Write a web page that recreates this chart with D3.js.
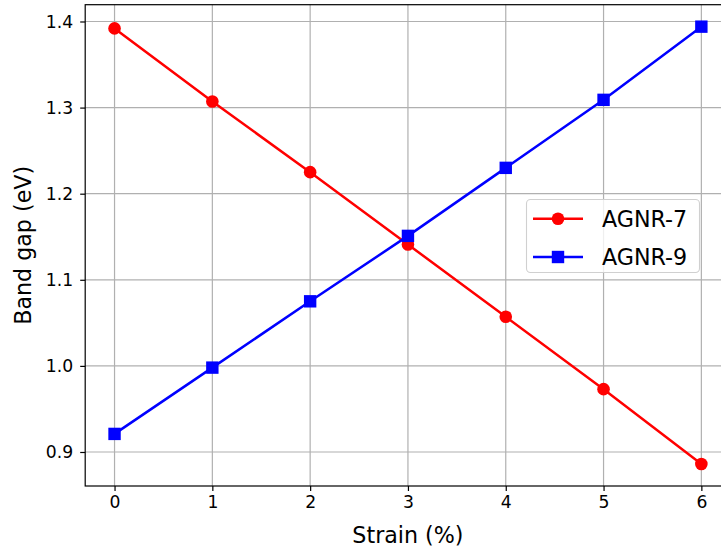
<!DOCTYPE html>
<html>
<head>
<meta charset="utf-8">
<script src="https://cdn.jsdelivr.net/npm/d3@7"></script>
<style>
  html, body { margin: 0; padding: 0; background: #fff; }
  svg { display: block; font-family: "DejaVu Sans", sans-serif; }
</style>
</head>
<body>
<svg id="chart" width="721" height="548"></svg>
<script>
// Strain values (%) and band gaps (eV) for the two nanoribbons
const strain = [0, 1, 2, 3, 4, 5, 6];
const agnr7 = [1.392, 1.307, 1.225, 1.141, 1.057, 0.973, 0.886];
const agnr9 = [0.921, 0.998, 1.075, 1.151, 1.230, 1.309, 1.394];
const seriesNames = ["AGNR-7", "AGNR-9"];
const xTicks = [0, 1, 2, 3, 4, 5, 6];
const yTicks = [0.9, 1.0, 1.1, 1.2, 1.3, 1.4];

const svg = d3.select("#chart");

// Plot frame (the right edge runs past the visible area)
const plotLeft = 85.2, plotRight = 730.7, plotTop = 4.7, plotBottom = 486;

const x = d3.scaleLinear().domain([-0.3, 6.3]).range([plotLeft, plotRight]);
const y = d3.scaleLinear().domain([0.8605, 1.4195]).range([plotBottom, plotTop]);

const grid = "#b0b0b0";
const lw = 2.5;

// Grid lines
svg.append("g").selectAll("line").data(xTicks).join("line")
  .attr("x1", d => x(d)).attr("x2", d => x(d))
  .attr("y1", plotTop).attr("y2", plotBottom)
  .attr("stroke", grid).attr("stroke-width", 1.2);
svg.append("g").selectAll("line").data(yTicks).join("line")
  .attr("x1", plotLeft).attr("x2", plotRight)
  .attr("y1", d => y(d)).attr("y2", d => y(d))
  .attr("stroke", grid).attr("stroke-width", 1.2);

// Axes
const xAxis = d3.axisBottom(x).tickValues(xTicks).tickFormat(d3.format("d"))
  .tickSize(5).tickPadding(5);
const yAxis = d3.axisLeft(y).tickValues(yTicks).tickFormat(d3.format(".1f"))
  .tickSize(5).tickPadding(7);

const gx = svg.append("g").attr("transform", `translate(0,${plotBottom})`).call(xAxis);
const gy = svg.append("g").attr("transform", `translate(${plotLeft},0)`).call(yAxis);
[gx, gy].forEach(g => {
  g.select(".domain").remove();
  g.selectAll(".tick line").attr("stroke", "#000").attr("stroke-width", 1.2);
  g.selectAll(".tick text").attr("fill", "#000")
    .style("font-size", "17.2px").style("font-family", "DejaVu Sans, sans-serif");
});

// Series lines and markers
const line = d3.line().x((d, i) => x(strain[i])).y(d => y(d));

svg.append("path").datum(agnr7).attr("d", line)
  .attr("fill", "none").attr("stroke", "#ff0000").attr("stroke-width", lw);
svg.append("path").datum(agnr9).attr("d", line)
  .attr("fill", "none").attr("stroke", "#0000ff").attr("stroke-width", lw);

svg.append("g").selectAll("circle").data(agnr7).join("circle")
  .attr("cx", (d, i) => x(strain[i])).attr("cy", d => y(d))
  .attr("r", 6.3).attr("fill", "#ff0000");
const sq = 12.4;
svg.append("g").selectAll("rect").data(agnr9).join("rect")
  .attr("x", (d, i) => x(strain[i]) - sq / 2).attr("y", d => y(d) - sq / 2)
  .attr("width", sq).attr("height", sq).attr("fill", "#0000ff");

// Frame
svg.append("rect")
  .attr("x", plotLeft).attr("y", plotTop)
  .attr("width", plotRight - plotLeft).attr("height", plotBottom - plotTop)
  .attr("fill", "none").attr("stroke", "#000").attr("stroke-width", 1.2);

// Axis titles
svg.append("text")
  .attr("x", (plotLeft + plotRight) / 2).attr("y", 542.5)
  .attr("text-anchor", "middle")
  .style("font-size", "22.2px")
  .text("Strain (%)");
svg.append("text")
  .attr("transform", `translate(31,${(plotTop + plotBottom) / 2}) rotate(-90)`)
  .attr("text-anchor", "middle")
  .style("font-size", "22.2px")
  .text("Band gap (eV)");

// Legend
const lg = svg.append("g");
lg.append("rect")
  .attr("x", 526.5).attr("y", 199.5).attr("width", 173).attr("height", 73)
  .attr("rx", 4).attr("ry", 4)
  .attr("fill", "rgba(255,255,255,0.8)")
  .attr("stroke", "#d0d0d0").attr("stroke-width", 1.1);

const legendRows = [
  { name: seriesNames[0], color: "#ff0000", shape: "circle", baseline: 226.7 },
  { name: seriesNames[1], color: "#0000ff", shape: "square", baseline: 265 }
];
legendRows.forEach(r => {
  const cy = r.baseline - 8;
  lg.append("line")
    .attr("x1", 533).attr("x2", 583).attr("y1", cy).attr("y2", cy)
    .attr("stroke", r.color).attr("stroke-width", lw);
  if (r.shape === "circle") {
    lg.append("circle").attr("cx", 558).attr("cy", cy).attr("r", 6.3).attr("fill", r.color);
  } else {
    lg.append("rect").attr("x", 558 - sq / 2).attr("y", cy - sq / 2)
      .attr("width", sq).attr("height", sq).attr("fill", r.color);
  }
  lg.append("text")
    .attr("x", 602).attr("y", r.baseline)
    .style("font-size", "22.2px")
    .text(r.name);
});
</script>
</body>
</html>
